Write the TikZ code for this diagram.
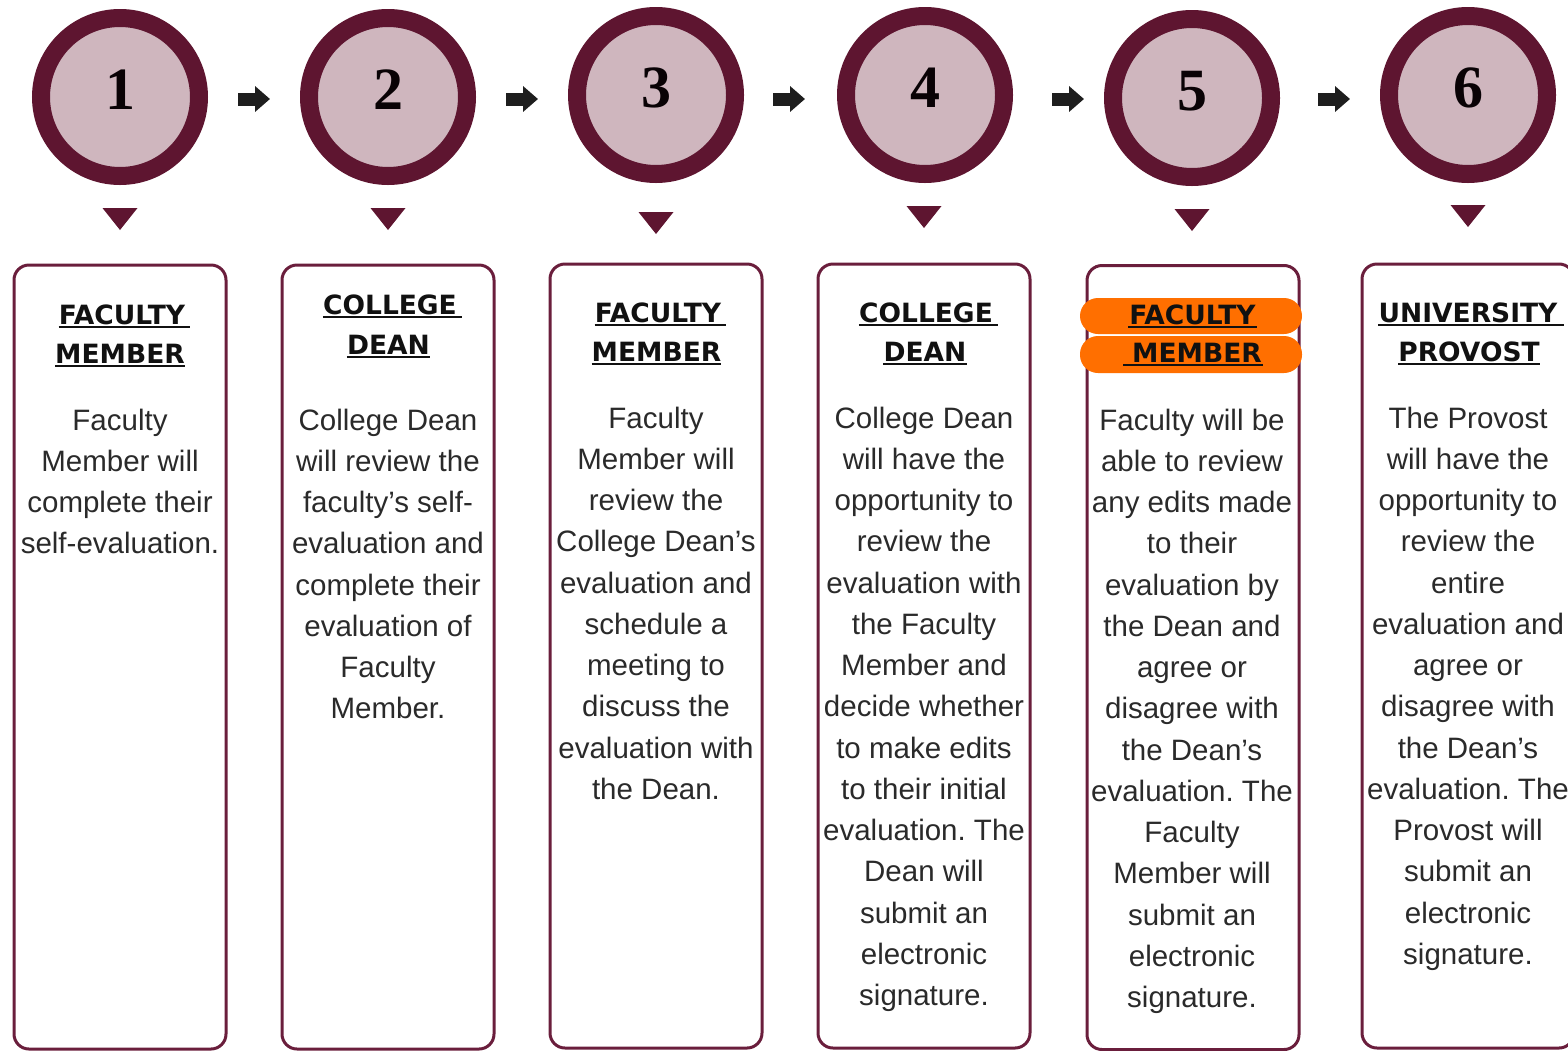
\documentclass[tikz,border=0pt]{standalone}
\usepackage{fontspec}
\setmainfont{Liberation Sans}
\newfontfamily\headfont{DejaVu Sans}
\newfontfamily\numfont{Liberation Serif}
\usetikzlibrary{arrows.meta}
\frenchspacing
\definecolor{ringc}{HTML}{5E1530}
\definecolor{pinkc}{HTML}{CFB6BE}
\definecolor{boxc}{HTML}{6A1E3C}
\definecolor{arrowc}{HTML}{1E1E1E}
\definecolor{orangec}{HTML}{FF6F00}
\definecolor{bodyc}{HTML}{2A2A2A}
\definecolor{headc}{HTML}{111111}
\newcommand\bodylines[4]{\foreach \t [count=\i] in {#4}{\node[bodyst] (#1-\i) at ({#2},{#3+(\i-1)*41.25}) {\t};}}
\newcommand\headline[6]{\node[headst] (#1) at ({#2},{#3}) {#4};
  \draw[ulst] ([xshift=-#5pt, yshift=-3pt]#1.base west) -- ([xshift=#6pt, yshift=-3pt]#1.base east);}
\begin{document}
\begin{tikzpicture}[x=1pt,y=-1pt,
  ringst/.style={circle, draw=ringc, line width=18pt, fill=pinkc, minimum size=158pt, inner sep=0pt},
  numst/.style={anchor=base, inner sep=0pt, font=\numfont\bfseries\fontsize{60}{60}\selectfont, text=black!90!ringc},
  boxst/.style={rectangle, draw=boxc, line width=3pt, rounded corners=15pt, fill=white, minimum width=212pt, minimum height=784pt, inner sep=0pt},
  pillst/.style={rectangle, fill=orangec, rounded corners=18pt, minimum width=222pt, minimum height=36pt, inner sep=0pt},
  headst/.style={anchor=base, inner sep=0pt, font=\headfont\bfseries\fontsize{26.5}{30}\selectfont, text=headc},
  ulst/.style={draw=headc, line width=1.8pt},
  bodyst/.style={anchor=base, inner sep=0pt, font=\fontsize{29.5}{35}\selectfont\frenchspacing, text=bodyc},
  tri/.style={fill=ringc},
  blockarrow/.style={draw=arrowc, line width=13pt, -{Triangle[length=15pt,width=25pt]}}
]
\useasboundingbox (0,0) rectangle (1568,1050);
% boxes
\node[boxst] (b1) at (120,657) {};
\node[boxst] (b2) at (388,657) {};
\node[boxst] (b3) at (656,656) {};
\node[boxst] (b4) at (924,656) {};
\node[boxst] (b5) at (1193,657.5) {};
\node[boxst] (b6) at (1468,656) {};
% highlights
\node[pillst] (hl1) at (1191,316) {};
\node[pillst, minimum height=37pt] (hl2) at (1191,354.5) {};
% headings
\headline{h1a}{122}{324}{FACULTY}{0}{5}
\headline{h1b}{120}{363}{MEMBER}{0}{0}
\headline{h2a}{390}{314}{COLLEGE}{0}{5}
\headline{h2b}{388.5}{354}{DEAN}{0}{0}
\headline{h3a}{658}{322}{FACULTY}{0}{5}
\headline{h3b}{656.5}{361}{MEMBER}{0}{0}
\headline{h4a}{926}{322}{COLLEGE}{0}{5}
\headline{h4b}{925}{361}{DEAN}{0}{0}
\headline{h5a}{1192.5}{324}{FACULTY}{1}{1}
\headline{h5b}{1197}{362}{MEMBER}{9}{1}
\headline{h6a}{1468}{322}{UNIVERSITY}{0}{6}
\headline{h6b}{1469}{361}{PROVOST}{0}{0}
% body texts
\bodylines{t1}{120}{430}{Faculty,Member will,complete their,self-evaluation.}
\bodylines{t2}{388}{430}{College Dean,will review the,faculty’s self-,evaluation and,complete their,evaluation of,Faculty,Member.}
\bodylines{t3}{656}{428}{Faculty,Member will,review the,College Dean’s,evaluation and,schedule a,meeting to,discuss the,evaluation with,the Dean.}
\bodylines{t4}{924}{428}{College Dean,will have the,opportunity to,review the,evaluation with,the Faculty,Member and,decide whether,to make edits,to their initial,evaluation. The,Dean will,submit an,electronic,signature.}
\bodylines{t5}{1192}{430}{Faculty will be,able to review,any edits made,to their,evaluation by,the Dean and,agree or,disagree with,the Dean’s,evaluation. The,Faculty,Member will,submit an,electronic,signature.}
\bodylines{t6}{1468}{428}{The Provost,will have the,opportunity to,review the,entire,evaluation and,agree or,disagree with,the Dean’s,evaluation. The,Provost will,submit an,electronic,signature.}
% circles and numbers
\node[ringst] (c1) at (120,97) {};
\node[ringst] (c2) at (388,97) {};
\node[ringst] (c3) at (656,95) {};
\node[ringst] (c4) at (925,95) {};
\node[ringst] (c5) at (1192,98) {};
\node[ringst] (c6) at (1468,95) {};
\node[numst] (n1) at (120,109) {1};
\node[numst] (n2) at (388,109) {2};
\node[numst] (n3) at (656,107) {3};
\node[numst] (n4) at (925,107) {4};
\node[numst] (n5) at (1192,110) {5};
\node[numst] (n6) at (1468,107) {6};
% triangles
\foreach \x/\y in {120/208, 388/208, 656/212, 924/206, 1192/209, 1468/205}{
  \fill[tri] (\x-17.5,\y) -- (\x+17.5,\y) -- (\x,\y+22) -- cycle;}
% arrows between steps
\coordinate (a1s) at (238,99); \coordinate (a1e) at (270,99);
\coordinate (a2s) at (506,99); \coordinate (a2e) at (538,99);
\coordinate (a3s) at (773,99); \coordinate (a3e) at (805,99);
\coordinate (a4s) at (1052,99); \coordinate (a4e) at (1084,99);
\coordinate (a5s) at (1318,99); \coordinate (a5e) at (1350,99);
\draw[blockarrow] (a1s) -- (a1e);
\draw[blockarrow] (a2s) -- (a2e);
\draw[blockarrow] (a3s) -- (a3e);
\draw[blockarrow] (a4s) -- (a4e);
\draw[blockarrow] (a5s) -- (a5e);
\end{tikzpicture}
\end{document}
